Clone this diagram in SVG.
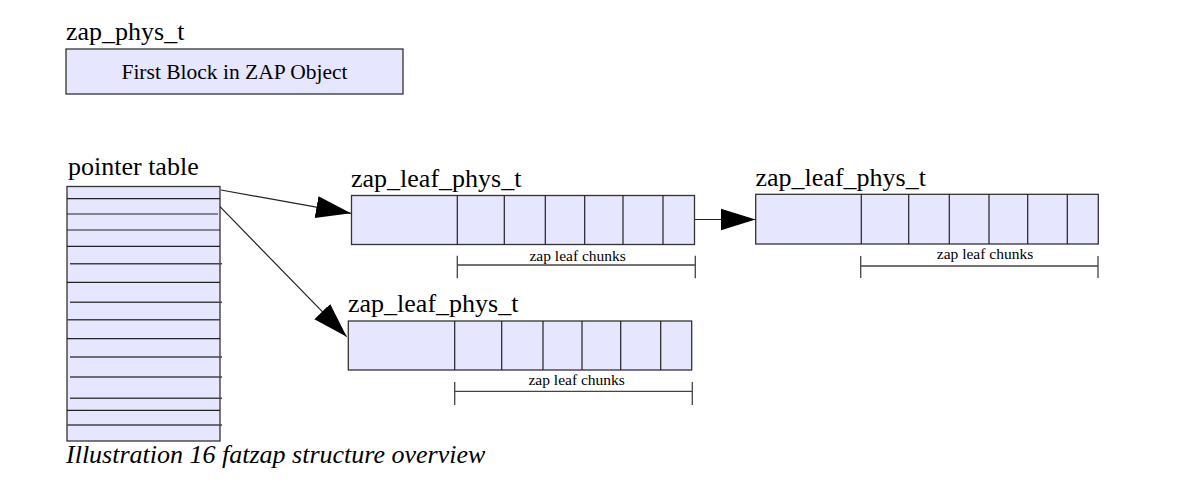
<svg xmlns="http://www.w3.org/2000/svg" width="1195" height="499" viewBox="0 0 1195 499">
<style>
.t{font-family:"Liberation Serif","Times New Roman",serif;fill:#000}
.big{font-size:26px}
.mid{font-size:21.5px}
.sm{font-size:15.5px}
.cap{font-size:26px;font-style:italic}
.box{fill:#e6e6ff;stroke:#333;stroke-width:1.3}
.div{stroke:#222;stroke-width:1.2;fill:none}
.gl{stroke:#444;stroke-width:1.4;fill:none}
.br{stroke:#444;stroke-width:1.3;fill:none}
.conn{stroke:#222;stroke-width:1.2;fill:none;marker-end:url(#ah)}
</style>
<defs>
<marker id="ah" markerUnits="userSpaceOnUse" markerWidth="36" markerHeight="24" viewBox="0 0 36 24" refX="35" refY="12" orient="auto">
<path d="M0,1 L35,12 L0,23 z" fill="#000"/>
</marker>
</defs>
<rect width="1195" height="499" fill="#fff"/>
<g id="zap_phys">
<text class="t big" x="66" y="40">zap_phys_t</text>
<rect class="box" x="66" y="49" width="337" height="45"/>
<text class="t mid" x="234.5" y="79" text-anchor="middle">First Block in ZAP Object</text>
</g>
<g id="pointer_table">
<text class="t big" x="68" y="175">pointer table</text>
<rect class="box" x="67" y="186.5" width="153" height="254.5"/>
<path class="div" d="M67,198.7H220M67,214H218M67,230H220M67,246.3H220M67,282.3H220M67,338.7H220M67,410.3H220"/>
<path class="gl" d="M70,263.7H222M70,302.3H222M67,319.7H220M70,357H222M70,377H222M70,398.3H222M67,425H222"/>
</g>
<g id="leaf1">
<text class="t big" x="351" y="187">zap_leaf_phys_t</text>
<rect class="box" x="351.5" y="195.5" width="343" height="49"/>
<path class="div" d="M457.3,195.5V244.5M504.3,195.5V244.5M545.3,195.5V244.5M584.7,195.5V244.5M623,195.5V244.5M663,195.5V244.5"/>
<path class="br" d="M457.3,255.7V278.3M695.3,255.7V278.3M457.3,265H695.3"/>
<text class="t sm" x="577.7" y="261" text-anchor="middle">zap leaf chunks</text>
</g>
<g id="leaf2">
<text class="t big" x="755.5" y="186">zap_leaf_phys_t</text>
<rect class="box" x="755.7" y="194.3" width="342.6" height="49.7"/>
<path class="div" d="M861.3,194.3V244M908.7,194.3V244M949.3,194.3V244M989,194.3V244M1027.7,194.3V244M1067.3,194.3V244"/>
<path class="br" d="M860.7,256V278M1098,256V278M860.7,266H1098"/>
<text class="t sm" x="985" y="259" text-anchor="middle">zap leaf chunks</text>
</g>
<g id="leaf3">
<text class="t big" x="348" y="312">zap_leaf_phys_t</text>
<rect class="box" x="348.3" y="321" width="343.4" height="49"/>
<path class="div" d="M454.7,321V370M501.7,321V370M543,321V370M582,321V370M620.7,321V370M660.7,321V370"/>
<path class="br" d="M454.7,382V405M692.3,382V405M454.7,391.3H692.3"/>
<text class="t sm" x="576.7" y="385" text-anchor="middle">zap leaf chunks</text>
</g>
<g id="connectors">
<path class="conn" d="M221,190L351,213.3"/>
<path class="conn" d="M220,206.7L346.7,336.7"/>
<path class="conn" d="M695,219.5L755.5,219.5"/>
</g>
<text class="t cap" x="66" y="463">Illustration 16 fatzap structure overview</text>
</svg>
